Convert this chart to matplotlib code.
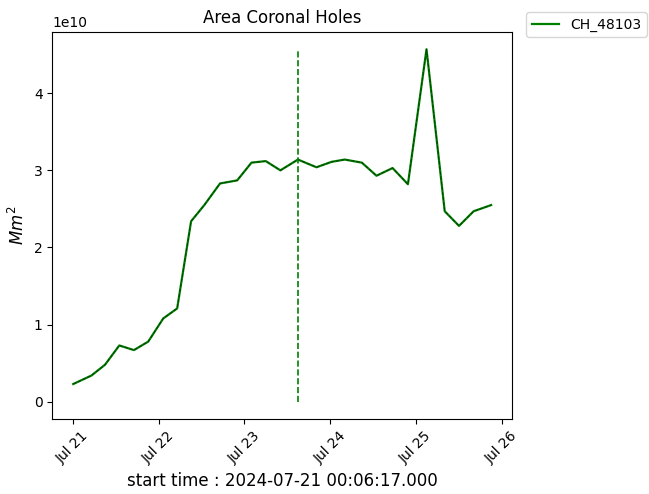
import matplotlib
matplotlib.use("Agg")
import matplotlib.pyplot as plt
import matplotlib.dates as mdates
import numpy as np
import pandas as pd

start = pd.Timestamp("2024-07-21 00:06:17")
hours = [0.0, 5.1, 8.9, 12.9, 17.0, 21.0, 25.2, 29.1, 33.0, 36.7, 41.1, 45.9,
         49.9, 53.9, 58.0, 62.9, 68.1, 72.3, 76.0, 80.8, 84.9, 89.4, 93.7,
         98.9, 104.0, 108.0, 112.1, 117.0]
area = [0.23, 0.34, 0.48, 0.73, 0.67, 0.78, 1.08, 1.21, 2.34, 2.55, 2.83, 2.87,
        3.10, 3.12, 3.00, 3.14, 3.04, 3.11, 3.14, 3.10, 2.93, 3.03, 2.82,
        4.57, 2.47, 2.28, 2.47, 2.55]
area = [v * 1e10 for v in area]
vline_hours = 62.9
label = "CH_48103"

times = [start + pd.Timedelta(hours=h) for h in hours]
vtime = start + pd.Timedelta(hours=vline_hours)

fig = plt.figure(figsize=(6.49, 4.94), dpi=100)
ax = fig.add_axes([0.0806, 0.151, 0.7084, 0.785])

ax.plot(times, area, color="green", lw=1.6, label=label)
ax.plot(times, area, color="black", lw=0.7, ls="--", alpha=0.5)
ax.vlines(vtime, 0, max(area), colors="green", linestyles="--", lw=1.2)

ax.xaxis.set_major_locator(mdates.DayLocator())
ax.xaxis.set_major_formatter(mdates.DateFormatter("%b %d"))
plt.setp(ax.get_xticklabels(), rotation=45)

ax.set_title("Area Coronal Holes", fontsize=12)
ax.set_xlabel("start time : " + start.strftime("%Y-%m-%d %H:%M:%S") + ".000", fontsize=12)
ax.set_ylabel("$Mm^2$", fontsize=12)

fig.legend(loc="upper left", bbox_to_anchor=(526 / 649, 1 - 12 / 494), borderaxespad=0)

fig.savefig("out.png", dpi=100)
